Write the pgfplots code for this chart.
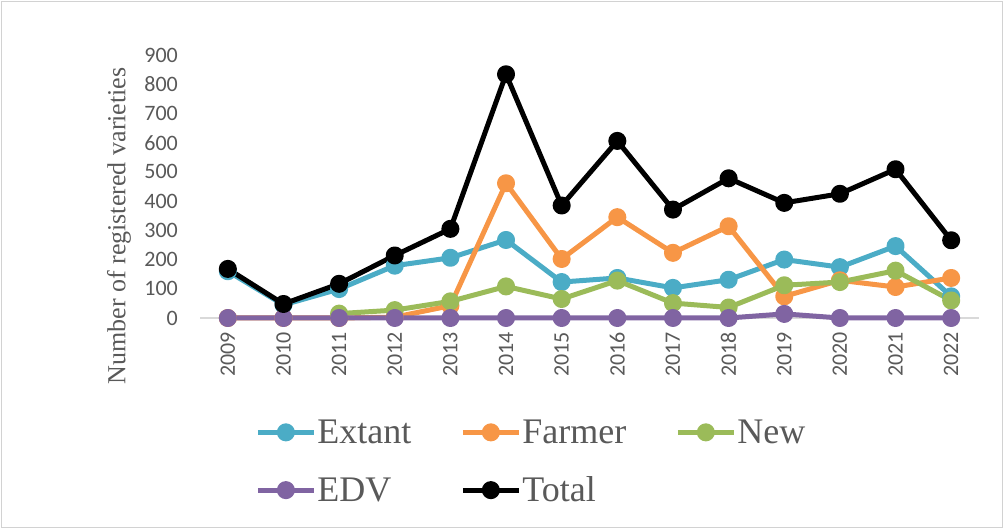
\documentclass[border=0pt]{standalone}
\usepackage{pgfplots}
\pgfplotsset{compat=1.18}
\usepackage{fontspec}
\setmainfont{Liberation Serif}
\newfontfamily\calib{Carlito}
\definecolor{cExt}{HTML}{4BACC6}
\definecolor{cFar}{HTML}{F79646}
\definecolor{cNew}{HTML}{9BBB59}
\definecolor{cEDV}{HTML}{8064A2}
\definecolor{txt}{HTML}{595959}
\begin{document}
\begin{tikzpicture}[x=1pt,y=1pt]
\useasboundingbox (0,0) rectangle (1004,529);
\draw[color=gray!35, line width=1pt] (1.5,1.5) rectangle (1002.5,527.5);
\begin{axis}[
  at={(200pt,211pt)}, anchor=south west,
  scale only axis, width=779pt, height=263pt,
  xmin=2008.5, xmax=2022.5, ymin=0, ymax=900,
  xtick={2009,...,2022}, ytick={0,100,...,900},
  /pgf/number format/assume math mode=true,
  /pgf/number format/1000 sep={},
  major tick length=0pt,
  axis x line=bottom, axis y line=left,
  x axis line style={-, draw=gray!30, line width=1.3pt},
  y axis line style={draw=none},
  xticklabel style={rotate=90, anchor=east, font=\calib\fontsize{22}{22}\selectfont, text=txt, inner sep=0pt, xshift=-14pt},
  yticklabel style={anchor=east, font=\calib\fontsize{22}{22}\selectfont, text=txt, inner sep=0pt, xshift=-22pt},
  ylabel={Number of registered varieties},
  ylabel style={at={(axis description cs:-0.104,0.35)}, anchor=center, font=\fontsize{26}{26}\selectfont, text=txt},
  clip=false,
  every axis plot/.append style={line width=5pt, mark=*, mark size=6.5pt, line join=round},
  legend columns=3,
  legend cell align=left,
  legend image code/.code={\draw[mark repeat=2,mark phase=2,#1] plot coordinates {(0pt,0pt) (28pt,0pt) (56pt,0pt)};},
  legend style={at={(axis description cs:0.067,-0.375)}, anchor=north west, draw=none, fill=none,
    font=\fontsize{36}{36}\selectfont, text=txt, row sep=30pt,
    nodes={inner sep=1pt},
    /tikz/every even column/.append style={column sep=48pt}},
]
\addplot[color=cExt, mark options={fill=cExt}] coordinates {
(2009,160) (2010,45) (2011,99) (2012,179) (2013,206) (2014,267) (2015,123)
(2016,137) (2017,103) (2018,131) (2019,200) (2020,174) (2021,246) (2022,74)};
\addlegendentry{Extant}
\addplot[color=cFar, mark options={fill=cFar}] coordinates {
(2009,0) (2010,0) (2011,0) (2012,3) (2013,42) (2014,461) (2015,202)
(2016,345) (2017,223) (2018,314) (2019,74) (2020,129) (2021,106) (2022,137)};
\addlegendentry{Farmer}
\addplot[color=cNew, mark options={fill=cNew}] coordinates {
(2011,15) (2012,27) (2013,57) (2014,108) (2015,65)
(2016,128) (2017,51) (2018,36) (2019,112) (2020,123) (2021,162) (2022,60)};
\addlegendentry{New}
\addplot[color=cEDV, mark options={fill=cEDV}] coordinates {
(2009,0) (2010,0) (2011,0) (2012,0) (2013,0) (2014,0) (2015,0)
(2016,0) (2017,0) (2018,0) (2019,14) (2020,0) (2021,0) (2022,0)};
\addlegendentry{EDV}
\addplot[color=black, mark options={fill=black}] coordinates {
(2009,168) (2010,48) (2011,117) (2012,214) (2013,305) (2014,834) (2015,385)
(2016,606) (2017,371) (2018,478) (2019,394) (2020,425) (2021,509) (2022,266)};
\addlegendentry{Total}
\end{axis}
\end{tikzpicture}
\end{document}
